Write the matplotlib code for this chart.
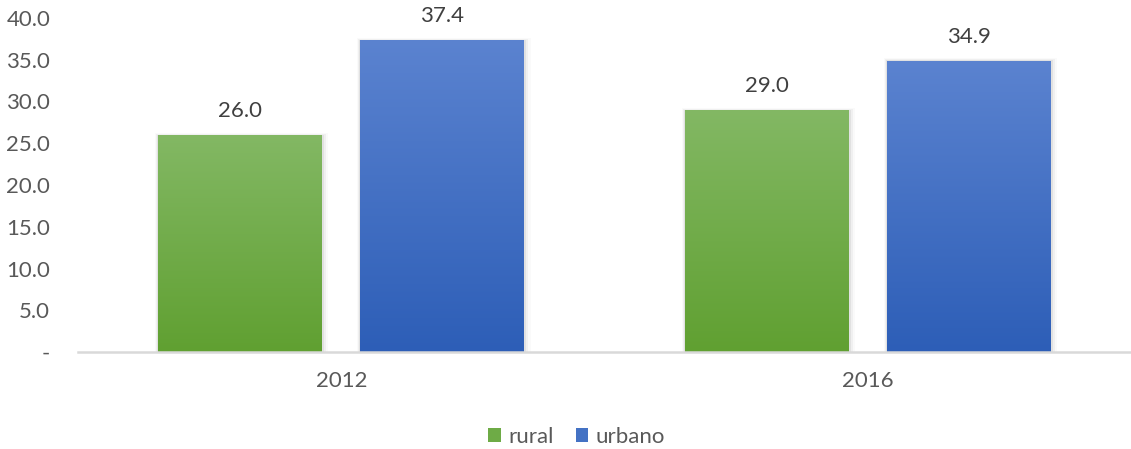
import matplotlib.pyplot as plt
import matplotlib.colors as mcolors
import numpy as np
from matplotlib.patches import Patch

plt.rcParams['font.family'] = ['Lato', 'DejaVu Sans']

# -------------------------
# Data
# -------------------------
years = ["2012", "2016"]
rural = [26.0, 29.0]
urbano = [37.4, 34.9]
series_names = ["rural", "urbano"]

# gradient colors (top, bottom)
green = ("#83b864", "#60a031")
blue = ("#5b83d0", "#2d5eb7")

fig = plt.figure(figsize=(11.31, 4.49), dpi=100)
ax = fig.add_axes([0.069, 0.216, 0.931, 0.744])

x = np.arange(len(years))
width = 0.311
offset = 0.192


def gradient_bars(xpos, values, cols):
    bars = ax.bar(xpos, values, width, color="none", edgecolor="none", zorder=3)
    cmap = mcolors.LinearSegmentedColormap.from_list("g", [cols[1], cols[0]])
    grad = np.linspace(0, 1, 256).reshape(-1, 1)
    for b in bars:
        x0, y0 = b.get_x(), b.get_y()
        w, h = b.get_width(), b.get_height()
        # soft shadow
        for i, a in enumerate([0.06, 0.04, 0.02]):
            d = 0.004 * (i + 1)
            ax.add_patch(plt.Rectangle((x0 - d * 0.5, y0), w + d * 1.5, h + 0.12 * (i + 1) - 0.1,
                                       color="black", alpha=a, lw=0, zorder=2))
        im = ax.imshow(grad, extent=[x0, x0 + w, y0, y0 + h], origin="lower",
                       cmap=cmap, aspect="auto", zorder=3)
        im.set_clip_path(b)
        ax.text(x0 + w / 2, h + 1.65, f"{h:.1f}", ha="center", va="bottom",
                fontsize=16, color="#404040", zorder=4)
    return bars


gradient_bars(x - offset, rural, green)
gradient_bars(x + offset, urbano, blue)

ax.set_xlim(-0.5, 1.5)
ax.set_ylim(0, 40)
ax.set_yticks(np.arange(0, 41, 5))
ax.set_yticklabels(["-"] + [f"{v:.1f}" for v in np.arange(5, 41, 5)])
ax.set_xticks(x)
ax.set_xticklabels(years)
ax.tick_params(axis="both", length=0, labelsize=16, labelcolor="#595959")
ax.tick_params(axis="x", pad=14)
ax.tick_params(axis="y", pad=20)
for s in ["top", "right", "left"]:
    ax.spines[s].set_visible(False)
ax.spines["bottom"].set_color("#d9d9d9")
ax.spines["bottom"].set_linewidth(1.8)
ax.spines["bottom"].set_zorder(5)

handles = [Patch(facecolor="#6eab46", label="rural"),
           Patch(facecolor="#4472c4", label="urbano")]
fig.legend(handles=handles, loc="center", bbox_to_anchor=(0.51, 0.027), ncol=2,
           frameon=False, fontsize=16, handlelength=0.55, handleheight=0.55,
           handletextpad=0.35, columnspacing=1.0, labelcolor="#595959")

plt.savefig("out.png", dpi=100)
